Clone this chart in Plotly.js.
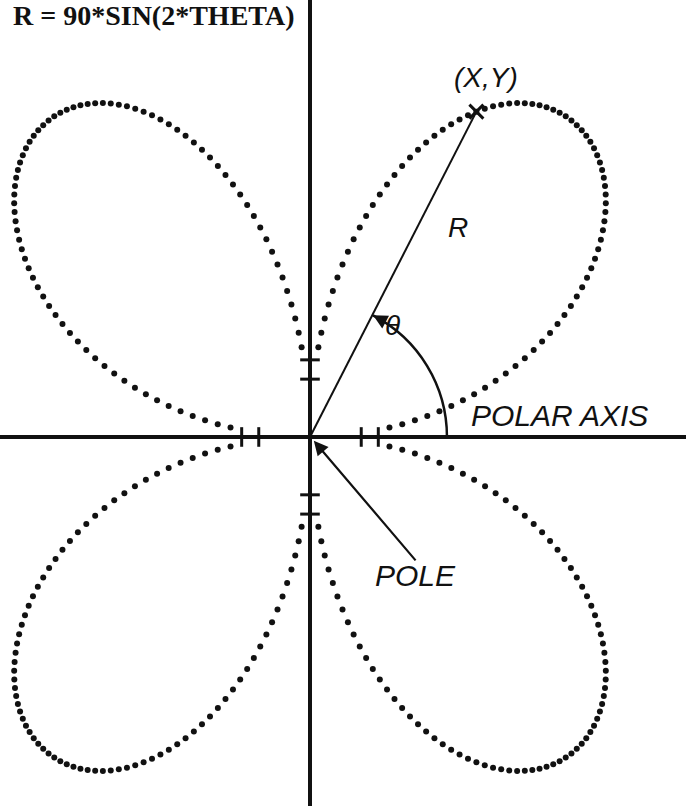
<!DOCTYPE html>
<html>
<head>
<meta charset="utf-8">
<script src="https://cdn.plot.ly/plotly-3.0.1.min.js"></script>
<style>
  html, body { margin: 0; padding: 0; background: #fff; }
  #graph { width: 686px; height: 806px; }
</style>
</head>
<body>
<div id="graph"></div>
<script>
// four leaf rose R = 90*SIN(2*THETA), one dot per degree of theta
// dots run from 6 to 84 deg in each quadrant, none right next to the axes
var rightX = [18.61, 21.61, 24.57, 27.47, 30.31, 33.10, 35.81, 38.44, 41.00, 43.47,
  45.85, 48.13, 50.31, 52.39, 54.36, 56.22, 57.97, 59.59, 61.10, 62.48,
  63.74, 64.88, 65.88, 66.75, 67.50, 68.12, 68.60, 68.95, 69.18, 69.28,
  69.25, 69.09, 68.81, 68.41, 67.90, 67.26, 66.52, 65.66, 64.70, 63.64,
  62.48, 61.23, 59.89, 58.47, 56.97, 55.40, 53.76, 52.07, 50.31, 48.51,
  46.66, 44.78, 42.87, 40.93, 38.97, 37.00, 35.03, 33.06, 31.09, 29.14,
  27.20, 25.30, 23.42, 21.58, 19.79, 18.04, 16.35, 14.71, 13.15, 11.65,
  10.22, 8.88, 7.61, 6.43, 5.35, 4.35, 3.45, 2.65, 1.96];
var leftX = [-18.61, -21.61, -24.57, -27.47, -30.31, -33.10, -35.81, -38.44, -41.00, -43.47,
  -45.85, -48.13, -50.31, -52.39, -54.36, -56.22, -57.97, -59.59, -61.10, -62.48,
  -63.74, -64.88, -65.88, -66.75, -67.50, -68.12, -68.60, -68.95, -69.18, -69.28,
  -69.25, -69.09, -68.81, -68.41, -67.90, -67.26, -66.52, -65.66, -64.70, -63.64,
  -62.48, -61.23, -59.89, -58.47, -56.97, -55.40, -53.76, -52.07, -50.31, -48.51,
  -46.66, -44.78, -42.87, -40.93, -38.97, -37.00, -35.03, -33.06, -31.09, -29.14,
  -27.20, -25.30, -23.42, -21.58, -19.79, -18.04, -16.35, -14.71, -13.15, -11.65,
  -10.22, -8.88, -7.61, -6.43, -5.35, -4.35, -3.45, -2.65, -1.96];
var upperY = [1.96, 2.65, 3.45, 4.35, 5.35, 6.43, 7.61, 8.88, 10.22, 11.65,
  13.15, 14.71, 16.35, 18.04, 19.79, 21.58, 23.42, 25.30, 27.20, 29.14,
  31.09, 33.06, 35.03, 37.00, 38.97, 40.93, 42.87, 44.78, 46.66, 48.51,
  50.31, 52.07, 53.76, 55.40, 56.97, 58.47, 59.89, 61.23, 62.48, 63.64,
  64.70, 65.66, 66.52, 67.26, 67.90, 68.41, 68.81, 69.09, 69.25, 69.28,
  69.18, 68.95, 68.60, 68.12, 67.50, 66.75, 65.88, 64.88, 63.74, 62.48,
  61.10, 59.59, 57.97, 56.22, 54.36, 52.39, 50.31, 48.13, 45.85, 43.47,
  41.00, 38.44, 35.81, 33.10, 30.31, 27.47, 24.57, 21.61, 18.61];
var lowerY = [-1.96, -2.65, -3.45, -4.35, -5.35, -6.43, -7.61, -8.88, -10.22, -11.65,
  -13.15, -14.71, -16.35, -18.04, -19.79, -21.58, -23.42, -25.30, -27.20, -29.14,
  -31.09, -33.06, -35.03, -37.00, -38.97, -40.93, -42.87, -44.78, -46.66, -48.51,
  -50.31, -52.07, -53.76, -55.40, -56.97, -58.47, -59.89, -61.23, -62.48, -63.64,
  -64.70, -65.66, -66.52, -67.26, -67.90, -68.41, -68.81, -69.09, -69.25, -69.28,
  -69.18, -68.95, -68.60, -68.12, -67.50, -66.75, -65.88, -64.88, -63.74, -62.48,
  -61.10, -59.59, -57.97, -56.22, -54.36, -52.39, -50.31, -48.13, -45.85, -43.47,
  -41.00, -38.44, -35.81, -33.10, -30.31, -27.47, -24.57, -21.61, -18.61];

// the marked point (X,Y) on the curve, at theta = 60 deg
var pointX = [38.97];
var pointY = [67.50];

// little cross marks on both axes
var tickPos = [-16, -12, 12, 16];
var tickZero = [0, 0, 0, 0];

var ink = '#111';

function petal(xs, ys) {
  return {
    x: xs,
    y: ys,
    mode: 'markers',
    type: 'scatter',
    marker: {size: 6, color: ink},
    hoverinfo: 'skip'
  };
}

var xTicks = {
  x: tickPos,
  y: tickZero,
  mode: 'markers',
  type: 'scatter',
  marker: {symbol: 'line-ns', size: 14, line: {width: 3, color: ink}}
};

var yTicks = {
  x: tickZero,
  y: tickPos,
  mode: 'markers',
  type: 'scatter',
  marker: {symbol: 'line-ew', size: 14, line: {width: 3, color: ink}}
};

var marked = {
  x: pointX,
  y: pointY,
  mode: 'markers',
  type: 'scatter',
  marker: {symbol: 'x-thin', size: 14, line: {width: 3, color: ink}}
};

var data = [
  petal(rightX, upperY),
  petal(leftX, upperY),
  petal(leftX, lowerY),
  petal(rightX, lowerY),
  xTicks, yTicks, marked
];

var lab = {family: 'Liberation Sans', style: 'italic', color: ink};

var layout = {
  width: 686,
  height: 806,
  margin: {l: 0, r: 0, t: 0, b: 0},
  paper_bgcolor: '#fff',
  plot_bgcolor: '#fff',
  showlegend: false,
  title: {
    text: 'R = 90*SIN(2*THETA)',
    font: {family: 'Liberation Serif', size: 28, weight: 'bold', color: ink},
    x: 13 / 686,
    xanchor: 'left',
    xref: 'container',
    y: 1 - 5 / 806,
    yanchor: 'top',
    yref: 'container',
    pad: {t: 0, b: 0, l: 0, r: 0}
  },
  xaxis: {
    range: [-72.6, 88.06],
    showgrid: false,
    showticklabels: false,
    ticks: '',
    zeroline: true,
    zerolinecolor: ink,
    zerolinewidth: 4,
    fixedrange: true
  },
  yaxis: {
    range: [-76.56, 90.66],
    showgrid: false,
    showticklabels: false,
    ticks: '',
    zeroline: true,
    zerolinecolor: ink,
    zerolinewidth: 4,
    fixedrange: true
  },
  shapes: [
    // R, from the pole to (X,Y)
    {type: 'line', x0: 0, y0: 0, x1: 38.97, y1: 67.5, line: {color: ink, width: 2}},
    // theta arc
    {type: 'path', path: 'M 32.08,0 C 32.08,10.62 25.41,20.33 14.77,25.23',
      line: {color: ink, width: 2.5}}
  ],
  annotations: [
    {x: 41.2, y: 74.5, text: '(X,Y)', showarrow: false, font: Object.assign({size: 28}, lab)},
    {x: 34.7, y: 43.4, text: 'R', showarrow: false, font: Object.assign({size: 28}, lab)},
    {x: 19.4, y: 23.2, text: '\u03B8', showarrow: false, font: Object.assign({size: 28}, lab)},
    {x: 58.4, y: 4.4, text: 'POLAR AXIS', showarrow: false, font: Object.assign({size: 30}, lab)},
    {x: 24.8, y: -28.8, text: 'POLE', showarrow: false, font: Object.assign({size: 30}, lab)},
    // arrow from POLE up to the pole
    {x: 0.9, y: -0.8, ax: 103, ay: 121, axref: 'pixel', ayref: 'pixel', text: '',
      showarrow: true, arrowhead: 2, arrowsize: 1.3, arrowwidth: 2.2, arrowcolor: ink, standoff: 0},
    // head of the theta arc
    {x: 14.77, y: 25.23, ax: 13, ay: 7, axref: 'pixel', ayref: 'pixel', text: '',
      showarrow: true, arrowhead: 2, arrowsize: 1.3, arrowwidth: 2.2, arrowcolor: ink, standoff: 0}
  ]
};

Plotly.newPlot('graph', data, layout, {staticPlot: true});
</script>
</body>
</html>
